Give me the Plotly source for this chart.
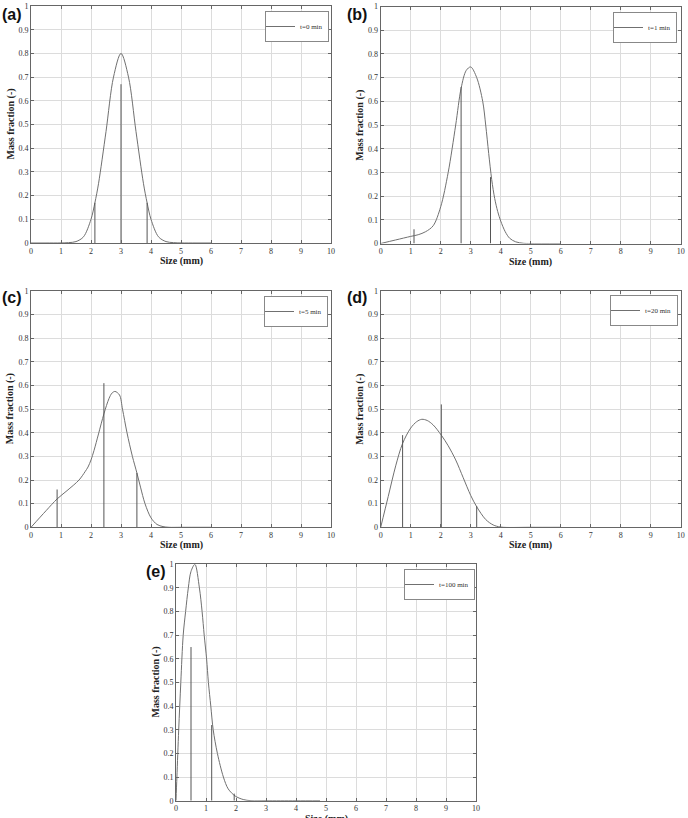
import plotly.graph_objects as go

W, H = 688, 818

# ---------------- data ----------------
size_a = [0, 0.5, 1.0, 1.25, 1.5, 1.75, 2.0, 2.13, 2.25, 2.5, 2.75, 3.0, 3.25, 3.5, 3.75, 3.87, 4.0, 4.25, 4.5, 4.75, 5.0, 5.5, 6.0]
frac_a = [0, 0, 0.0002, 0.0015, 0.006, 0.026, 0.10, 0.17, 0.25, 0.47, 0.70, 0.80, 0.70, 0.47, 0.25, 0.17, 0.10, 0.026, 0.006, 0.0015, 0.0002, 0, 0]

size_b = [0, 0.5, 1.0, 1.25, 1.5, 1.75, 2.0, 2.25, 2.5, 2.68, 2.85, 3.0, 3.2, 3.4, 3.5, 3.6, 3.7, 3.8, 3.9, 4.0, 4.15, 4.3, 4.5, 4.75, 5.0, 6.0]
frac_b = [0, 0.015, 0.03, 0.037, 0.05, 0.075, 0.155, 0.30, 0.50, 0.655, 0.73, 0.745, 0.70, 0.60, 0.50, 0.38, 0.27, 0.19, 0.135, 0.095, 0.05, 0.022, 0.007, 0.001, 0, 0]

size_c = [0, 0.5, 0.87, 1.2, 1.6, 1.8, 1.9, 2.0, 2.1, 2.25, 2.43, 2.6, 2.7, 2.8, 2.95, 3.05, 3.2, 3.38, 3.53, 3.65, 3.8, 4.0, 4.2, 4.4, 4.6, 5.0, 6.0]
frac_c = [0, 0.07, 0.12, 0.155, 0.20, 0.235, 0.255, 0.285, 0.325, 0.395, 0.48, 0.545, 0.568, 0.575, 0.56, 0.50, 0.40, 0.30, 0.23, 0.17, 0.10, 0.04, 0.012, 0.003, 0, 0, 0]

size_d = [0, 0.25, 0.5, 0.73, 1.0, 1.2, 1.37, 1.55, 1.75, 2.02, 2.25, 2.5, 2.75, 3.0, 3.2, 3.5, 3.75, 4.0, 5.0, 6.0]
frac_d = [0, 0.13, 0.26, 0.355, 0.42, 0.447, 0.457, 0.452, 0.433, 0.39, 0.345, 0.285, 0.21, 0.135, 0.087, 0.033, 0.01, 0.001, 0, 0]

size_e = [0, 0.03, 0.09, 0.16, 0.24, 0.32, 0.41, 0.5, 0.63, 0.78, 0.87, 0.94, 1.02, 1.08, 1.16, 1.24, 1.38, 1.58, 1.74, 1.97, 2.24, 2.5, 3.0, 4.0, 4.8]
frac_e = [0, 0.10, 0.30, 0.50, 0.70, 0.80, 0.90, 0.97, 1.0, 0.90, 0.80, 0.70, 0.60, 0.50, 0.40, 0.30, 0.20, 0.10, 0.05, 0.02, 0.005, 0, 0, 0, 0]

stem_x_a = [2.13, 3.0, 3.87]
stem_h_a = [0.17, 0.67, 0.17]
stem_x_b = [1.11, 2.68, 3.66]
stem_h_b = [0.06, 0.66, 0.28]
stem_x_c = [0.87, 2.43, 3.53]
stem_h_c = [0.16, 0.61, 0.23]
stem_x_d = [0.73, 2.02, 3.2]
stem_h_d = [0.39, 0.52, 0.09]
stem_x_e = [0.5, 1.19, 1.94]
stem_h_e = [0.65, 0.32, 0.03]

series_labels = ["t=0 min", "t=1 min", "t=5 min", "t=20 min", "t=100 min"]
panel_tags = ["(a)", "(b)", "(c)", "(d)", "(e)"]
x_tick_vals = [0, 1, 2, 3, 4, 5, 6, 7, 8, 9, 10]
y_tick_vals = [0, 0.1, 0.2, 0.3, 0.4, 0.5, 0.6, 0.7, 0.8, 0.9, 1]
y_tick_text = ["0", "0.1", "0.2", "0.3", "0.4", "0.5", "0.6", "0.7", "0.8", "0.9", "1"]
x_title = "Size (mm)"
y_title = "Mass fraction (-)"

curves = [(size_a, frac_a), (size_b, frac_b), (size_c, frac_c), (size_d, frac_d), (size_e, frac_e)]
stems = [(stem_x_a, stem_h_a), (stem_x_b, stem_h_b), (stem_x_c, stem_h_c), (stem_x_d, stem_h_d), (stem_x_e, stem_h_e)]

# ---------------- layout boxes (pixels: left, right, top, bottom) ----------------
boxes = [(31, 331, 6, 243), (380.7, 680.7, 6.5, 243.5), (31, 331, 291, 527.3),
         (380.7, 680.7, 291, 527.3), (176, 476, 564.3, 800.7)]
legend_pos = [(329, 11), (677, 12), (328, 296), (678, 295), (475, 569)]
tag_pos = [(0, 15), (345, 15), (0, 297), (345, 298), (144, 571)]

SERIF = "Liberation Serif, Times New Roman, serif"
TICK_FONT = dict(family=SERIF, size=8, color="#333")
TITLE_FONT = dict(family=SERIF, size=10, color="#222")
LINE_COLOR = "#707070"

fig = go.Figure()
layout = dict(template="none", width=W, height=H, margin=dict(l=0, r=0, t=0, b=0, autoexpand=False),
              paper_bgcolor="white", plot_bgcolor="white", showlegend=True,
              font=dict(family=SERIF, color="#333"))
annotations = []

for i in range(5):
    n = "" if i == 0 else str(i + 1)
    xa, ya = "x" + n, "y" + n
    lg = "legend" + n
    l, r, t, b = boxes[i]
    sx, sy = curves[i]
    fig.add_trace(go.Scatter(x=sx, y=sy, mode="lines", name=series_labels[i],
                             line=dict(color=LINE_COLOR, width=1, shape="spline", smoothing=0.9),
                             xaxis=xa, yaxis=ya, legend=lg, hoverinfo="x+y"))
    stx, sth = stems[i]
    px, py = [], []
    for xv, hv in zip(stx, sth):
        px += [xv, xv, None]
        py += [0, hv, None]
    fig.add_trace(go.Scatter(x=px, y=py, mode="lines", showlegend=False,
                             line=dict(color="#555555", width=1),
                             xaxis=xa, yaxis=ya, hoverinfo="skip"))
    common = dict(showline=True, linecolor="#666", linewidth=1, mirror="ticks",
                  ticks="inside", ticklen=3, tickcolor="#666", tickwidth=1,
                  showgrid=True, gridcolor="#dcdcdc", gridwidth=1, zeroline=False,
                  tickfont=TICK_FONT, fixedrange=True, automargin=False,
                  ticklabeloverflow="allow")
    layout["xaxis" + n] = dict(domain=[l / W, r / W], range=[0, 10], anchor=ya,
                               tickmode="array", tickvals=x_tick_vals, **common)
    layout["yaxis" + n] = dict(domain=[1 - b / H, 1 - t / H], range=[0, 1], anchor=xa,
                               tickmode="array", tickvals=y_tick_vals, ticktext=y_tick_text,
                               **common)
    lx, ly = legend_pos[i]
    layout[lg] = dict(x=lx / W, y=1 - ly / H, xanchor="right", yanchor="top",
                      xref="paper", yref="paper",
                      bgcolor="white", bordercolor="#888", borderwidth=1,
                      font=dict(family=SERIF, size=7, color="#333"),
                      itemwidth=30, tracegroupgap=0, indentation=-6)
    # axis titles
    annotations.append(dict(text="<b>" + x_title + "</b>", x=(l + r) / 2 / W, y=1 - (b + 10) / H,
                            xref="paper", yref="paper", xanchor="center", yanchor="top",
                            showarrow=False, font=TITLE_FONT))
    annotations.append(dict(text="<b>" + y_title + "</b>", x=(l - 21) / W, y=1 - (t + b) / 2 / H,
                            xref="paper", yref="paper", xanchor="center", yanchor="middle",
                            textangle=-90, showarrow=False, font=TITLE_FONT))
    tx, ty = tag_pos[i]
    annotations.append(dict(text="<b>" + panel_tags[i] + "</b>", x=tx / W, y=1 - ty / H,
                            xref="paper", yref="paper", xanchor="left", yanchor="middle",
                            showarrow=False,
                            font=dict(family="Liberation Sans, Arial, sans-serif", size=16, color="#111")))

layout["annotations"] = annotations
fig.update_layout(**layout)
fig.write_html("out.html", config={"displayModeBar": False},
               post_script="document.body.style.margin='0px';document.body.style.padding='0px';document.body.style.overflow='hidden';")
